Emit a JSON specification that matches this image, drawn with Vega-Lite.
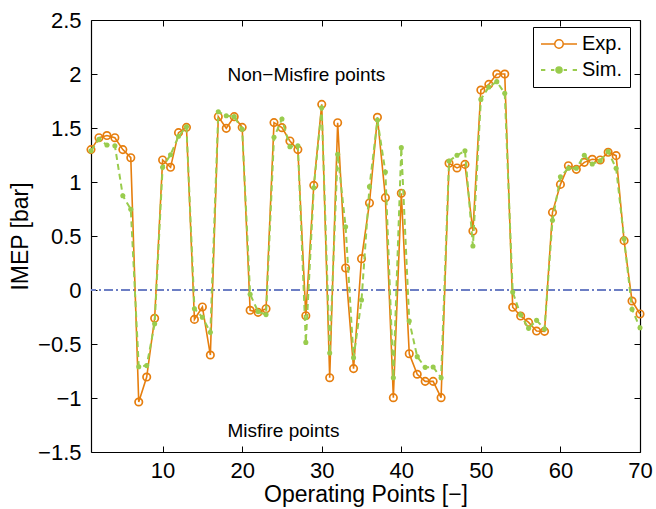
{
  "$schema": "https://vega.github.io/schema/vega-lite/v6.json",
  "width": 549,
  "height": 432,
  "autosize": {"type": "none"},
  "padding": {"left": 91, "top": 20, "right": 16, "bottom": 57},
  "background": "white",
  "config": {
    "view": {"stroke": null},
    "font": "Liberation Sans",
    "axis": {
      "labelFont": "Liberation Sans", "titleFont": "Liberation Sans",
      "labelColor": "black", "titleColor": "black", "titleFontWeight": "normal",
      "domainColor": "black", "tickColor": "black", "grid": false,
      "labelFontSize": 22, "titleFontSize": 23, "tickSize": -6,
      "domainWidth": 1.2, "tickWidth": 1, "labelFlush": false, "labelOverlap": false
    },
    "legend": {
      "orient": "none", "legendX": 442, "legendY": 7, "padding": 7,
      "strokeColor": "black", "fillColor": "white", "strokeWidth": 1, "cornerRadius": 0,
      "labelFont": "Liberation Sans", "labelFontSize": 20, "labelColor": "black",
      "symbolSize": 324, "labelOffset": 22, "rowPadding": 6, "title": null
    }
  },
  "datasets": {
    "pts": [
      {"op":1,"series":"Exp.","imep":1.30},{"op":2,"series":"Exp.","imep":1.41},{"op":3,"series":"Exp.","imep":1.43},{"op":4,"series":"Exp.","imep":1.41},{"op":5,"series":"Exp.","imep":1.30},
      {"op":6,"series":"Exp.","imep":1.225},{"op":7,"series":"Exp.","imep":-1.037},{"op":8,"series":"Exp.","imep":-0.806},{"op":9,"series":"Exp.","imep":-0.262},{"op":10,"series":"Exp.","imep":1.204},
      {"op":11,"series":"Exp.","imep":1.136},{"op":12,"series":"Exp.","imep":1.457},{"op":13,"series":"Exp.","imep":1.506},{"op":14,"series":"Exp.","imep":-0.272},{"op":15,"series":"Exp.","imep":-0.157},
      {"op":16,"series":"Exp.","imep":-0.602},{"op":17,"series":"Exp.","imep":1.605},{"op":18,"series":"Exp.","imep":1.497},{"op":19,"series":"Exp.","imep":1.605},{"op":20,"series":"Exp.","imep":1.506},
      {"op":21,"series":"Exp.","imep":-0.188},{"op":22,"series":"Exp.","imep":-0.207},{"op":23,"series":"Exp.","imep":-0.173},{"op":24,"series":"Exp.","imep":1.55},{"op":25,"series":"Exp.","imep":1.503},
      {"op":26,"series":"Exp.","imep":1.38},{"op":27,"series":"Exp.","imep":1.30},{"op":28,"series":"Exp.","imep":-0.238},{"op":29,"series":"Exp.","imep":0.969},{"op":30,"series":"Exp.","imep":1.719},
      {"op":31,"series":"Exp.","imep":-0.812},{"op":32,"series":"Exp.","imep":1.549},{"op":33,"series":"Exp.","imep":0.204},{"op":34,"series":"Exp.","imep":-0.728},{"op":35,"series":"Exp.","imep":0.29},
      {"op":36,"series":"Exp.","imep":0.806},{"op":37,"series":"Exp.","imep":1.599},{"op":38,"series":"Exp.","imep":0.855},{"op":39,"series":"Exp.","imep":-0.997},{"op":40,"series":"Exp.","imep":0.895},
      {"op":41,"series":"Exp.","imep":-0.59},{"op":42,"series":"Exp.","imep":-0.78},{"op":43,"series":"Exp.","imep":-0.846},{"op":44,"series":"Exp.","imep":-0.846},{"op":45,"series":"Exp.","imep":-0.997},
      {"op":46,"series":"Exp.","imep":1.173},{"op":47,"series":"Exp.","imep":1.13},{"op":48,"series":"Exp.","imep":1.163},{"op":49,"series":"Exp.","imep":0.546},{"op":50,"series":"Exp.","imep":1.852},
      {"op":51,"series":"Exp.","imep":1.904},{"op":52,"series":"Exp.","imep":2.0},{"op":53,"series":"Exp.","imep":2.0},{"op":54,"series":"Exp.","imep":-0.16},{"op":55,"series":"Exp.","imep":-0.241},
      {"op":56,"series":"Exp.","imep":-0.30},{"op":57,"series":"Exp.","imep":-0.38},{"op":58,"series":"Exp.","imep":-0.383},{"op":59,"series":"Exp.","imep":0.719},{"op":60,"series":"Exp.","imep":0.978},
      {"op":61,"series":"Exp.","imep":1.151},{"op":62,"series":"Exp.","imep":1.117},{"op":63,"series":"Exp.","imep":1.182},{"op":64,"series":"Exp.","imep":1.21},{"op":65,"series":"Exp.","imep":1.204},
      {"op":66,"series":"Exp.","imep":1.275},{"op":67,"series":"Exp.","imep":1.244},{"op":68,"series":"Exp.","imep":0.457},{"op":69,"series":"Exp.","imep":-0.102},{"op":70,"series":"Exp.","imep":-0.222},
      {"op":1,"series":"Sim.","imep":1.29},{"op":2,"series":"Sim.","imep":1.395},{"op":3,"series":"Sim.","imep":1.343},{"op":4,"series":"Sim.","imep":1.336},{"op":5,"series":"Sim.","imep":0.873},
      {"op":6,"series":"Sim.","imep":0.747},{"op":7,"series":"Sim.","imep":-0.71},{"op":8,"series":"Sim.","imep":-0.70},{"op":9,"series":"Sim.","imep":-0.312},{"op":10,"series":"Sim.","imep":1.136},
      {"op":11,"series":"Sim.","imep":1.253},{"op":12,"series":"Sim.","imep":1.423},{"op":13,"series":"Sim.","imep":1.512},{"op":14,"series":"Sim.","imep":-0.173},{"op":15,"series":"Sim.","imep":-0.253},
      {"op":16,"series":"Sim.","imep":-0.392},{"op":17,"series":"Sim.","imep":1.651},{"op":18,"series":"Sim.","imep":1.614},{"op":19,"series":"Sim.","imep":1.605},{"op":20,"series":"Sim.","imep":1.488},
      {"op":21,"series":"Sim.","imep":-0.04},{"op":22,"series":"Sim.","imep":-0.20},{"op":23,"series":"Sim.","imep":-0.228},{"op":24,"series":"Sim.","imep":1.414},{"op":25,"series":"Sim.","imep":1.583},
      {"op":26,"series":"Sim.","imep":1.327},{"op":27,"series":"Sim.","imep":1.336},{"op":28,"series":"Sim.","imep":-0.485},{"op":29,"series":"Sim.","imep":0.947},{"op":30,"series":"Sim.","imep":1.688},
      {"op":31,"series":"Sim.","imep":-0.583},{"op":32,"series":"Sim.","imep":1.256},{"op":33,"series":"Sim.","imep":0.586},{"op":34,"series":"Sim.","imep":-0.627},{"op":35,"series":"Sim.","imep":-0.093},
      {"op":36,"series":"Sim.","imep":0.957},{"op":37,"series":"Sim.","imep":1.574},{"op":38,"series":"Sim.","imep":1.093},{"op":39,"series":"Sim.","imep":-0.812},{"op":40,"series":"Sim.","imep":1.318},
      {"op":41,"series":"Sim.","imep":-0.287},{"op":42,"series":"Sim.","imep":-0.617},{"op":43,"series":"Sim.","imep":-0.716},{"op":44,"series":"Sim.","imep":-0.713},{"op":45,"series":"Sim.","imep":-0.812},
      {"op":46,"series":"Sim.","imep":1.194},{"op":47,"series":"Sim.","imep":1.247},{"op":48,"series":"Sim.","imep":1.29},{"op":49,"series":"Sim.","imep":0.407},{"op":50,"series":"Sim.","imep":1.765},
      {"op":51,"series":"Sim.","imep":1.88},{"op":52,"series":"Sim.","imep":1.929},{"op":53,"series":"Sim.","imep":1.821},{"op":54,"series":"Sim.","imep":-0.019},{"op":55,"series":"Sim.","imep":-0.23},
      {"op":56,"series":"Sim.","imep":-0.355},{"op":57,"series":"Sim.","imep":-0.281},{"op":58,"series":"Sim.","imep":-0.361},{"op":59,"series":"Sim.","imep":0.645},{"op":60,"series":"Sim.","imep":1.049},
      {"op":61,"series":"Sim.","imep":1.127},{"op":62,"series":"Sim.","imep":1.127},{"op":63,"series":"Sim.","imep":1.247},{"op":64,"series":"Sim.","imep":1.167},{"op":65,"series":"Sim.","imep":1.197},
      {"op":66,"series":"Sim.","imep":1.281},{"op":67,"series":"Sim.","imep":1.127},{"op":68,"series":"Sim.","imep":0.475},{"op":69,"series":"Sim.","imep":-0.179},{"op":70,"series":"Sim.","imep":-0.349}
    ],
    "notes": [
      {"op": 18.15, "imep": 1.935, "label": "Non−Misfire points"},
      {"op": 18.15, "imep": -1.364, "label": "Misfire points"}
    ]
  },
  "data": {"name": "pts"},
  "resolve": {"axis": {"x": "independent", "y": "independent"}},
  "layer": [
    {
      "mark": {"type": "rule", "color": "#6C7FC4", "strokeWidth": 1, "strokeDash": [9, 3, 2, 3]},
      "encoding": {
        "y": {"datum": 0, "type": "quantitative", "scale": {"domain": [-1.5, 2.5], "nice": false, "zero": false}, "axis": null}
      }
    },
    {
      "transform": [{"filter": "datum.series === 'Exp.'"}],
      "mark": {"type": "line", "strokeWidth": 1.6},
      "encoding": {
        "x": {"field": "op", "type": "quantitative", "scale": {"domain": [1, 70], "nice": false, "zero": false},
              "axis": {"orient": "bottom", "values": [10, 20, 30, 40, 50, 60, 70], "labelPadding": 14, "title": "Operating Points [−]", "titlePadding": 2}},
        "y": {"field": "imep", "type": "quantitative", "scale": {"domain": [-1.5, 2.5], "nice": false, "zero": false},
              "axis": {"orient": "left", "values": [-1.5, -1, -0.5, 0, 0.5, 1, 1.5, 2, 2.5], "format": "~g", "labelPadding": 16, "title": "IMEP [bar]", "titlePadding": 5}},
        "color": {"field": "series", "type": "nominal", "scale": {"domain": ["Exp.", "Sim."], "range": ["#E67E0E", "#99CC4D"]},
          "legend": {
            "encode": {"symbols": {"update": {
              "shape": {"signal": "datum.value === 'Exp.' ? 'M-1,0L0.53,0M1.47,0L3,0M1.47,0A0.47,0.47,0,1,1,0.53,0A0.47,0.47,0,1,1,1.47,0' : 'M-1,0L-0.52,0M0.11,0L0.48,0M1.52,0L1.89,0M2.52,0L3,0M1.31,0A0.31,0.31,0,1,1,0.69,0A0.31,0.31,0,1,1,1.31,0'"},
              "fill": {"signal": "datum.value === 'Exp.' ? 'transparent' : '#99CC4D'"},
              "stroke": {"signal": "datum.value === 'Exp.' ? '#E67E0E' : '#99CC4D'"},
              "strokeWidth": {"signal": "datum.value === 'Exp.' ? 1.5 : 2"},
              "strokeDash": {"value": []},
              "opacity": {"value": 1},
              "size": {"value": 324}
            }}}
          }}
      }
    },
    {
      "transform": [{"filter": "datum.series === 'Exp.'"}],
      "mark": {"type": "point", "shape": "circle", "filled": false, "stroke": "#E67E0E", "strokeWidth": 1.7, "size": 55, "opacity": 1},
      "encoding": {
        "x": {"field": "op", "type": "quantitative", "axis": null},
        "y": {"field": "imep", "type": "quantitative", "axis": null}
      }
    },
    {
      "transform": [{"filter": "datum.series === 'Sim.'"}],
      "mark": {"type": "line", "strokeWidth": 2, "strokeDash": [6, 4]},
      "encoding": {
        "x": {"field": "op", "type": "quantitative",
              "axis": {"orient": "top", "values": [10, 20, 30, 40, 50, 60, 70], "labels": false, "title": null}},
        "y": {"field": "imep", "type": "quantitative",
              "axis": {"orient": "right", "values": [-1.5, -1, -0.5, 0, 0.5, 1, 1.5, 2, 2.5], "labels": false, "title": null}},
        "color": {"field": "series", "type": "nominal"}
      }
    },
    {
      "transform": [{"filter": "datum.series === 'Sim.'"}],
      "mark": {"type": "point", "shape": "circle", "filled": true, "fill": "#99CC4D", "size": 26, "opacity": 1},
      "encoding": {
        "x": {"field": "op", "type": "quantitative", "axis": null},
        "y": {"field": "imep", "type": "quantitative", "axis": null}
      }
    },
    {
      "data": {"name": "notes"},
      "mark": {"type": "text", "align": "left", "baseline": "alphabetic", "fontSize": 19, "font": "Liberation Sans", "color": "black"},
      "encoding": {
        "x": {"field": "op", "type": "quantitative", "axis": null},
        "y": {"field": "imep", "type": "quantitative", "axis": null},
        "text": {"field": "label"}
      }
    }
  ]
}
